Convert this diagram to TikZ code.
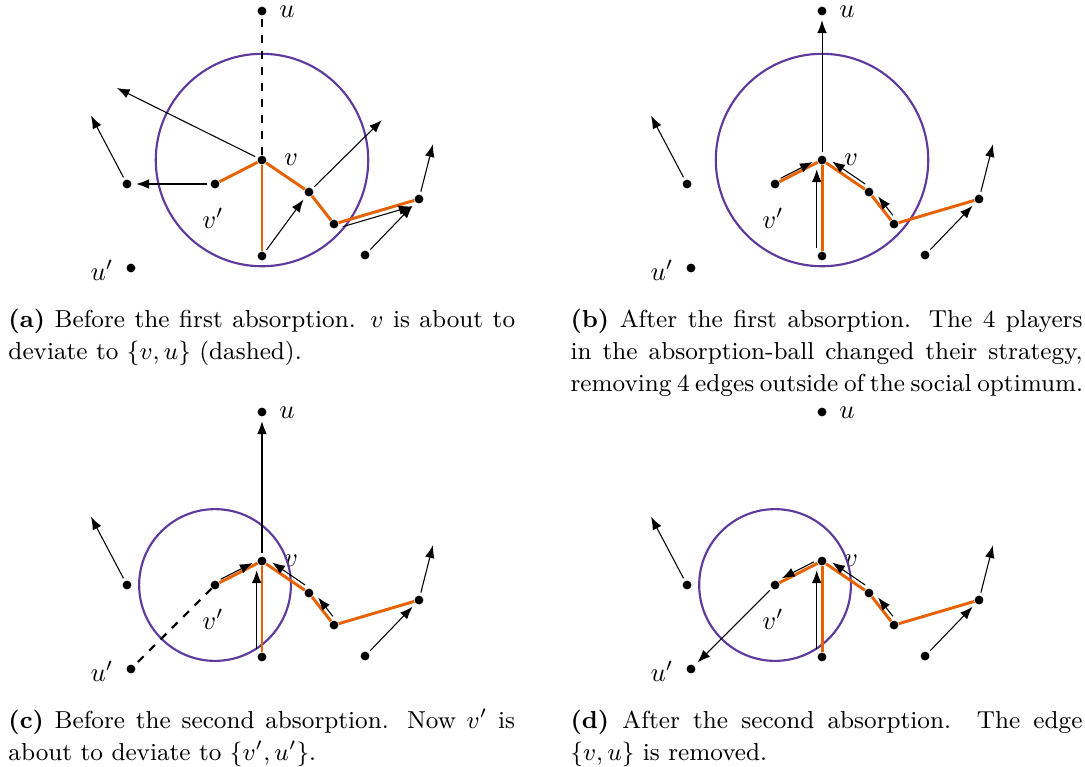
\documentclass[tikz,border=0pt]{standalone}
\usepackage{fix-cm}
\usepackage{amsmath}
\usepackage{tikz}
\usetikzlibrary{arrows.meta,positioning,calc}
\definecolor{ballpurple}{HTML}{5D3A9B}
\definecolor{optorange}{HTML}{E66100}

\begin{document}
\begin{tikzpicture}[
  player/.style={circle, fill=black, inner sep=0pt, minimum size=3.3pt},
  lbl/.style={inner sep=0pt},
  opt/.style={draw=optorange, line width=1.1pt},
  ball/.style={draw=ballpurple, thick},
  buy/.style={-Latex, shorten >=1.6pt, shorten <=1pt},
  along/.style={buy, transform canvas={shift={#1}}},
  deviate/.style={dashed, thick},
  capt/.style={anchor=north west, text width=#1, align=justify, inner sep=0pt,
    font=\fontsize{9.2pt}{12pt}\selectfont}
]
\useasboundingbox (-3.453,2.109) rectangle (10.847,-7.987);
\foreach \p/\sx/\sy/\ctr/\rad in {a/0/0/v/1.4, b/7.381/0/v/1.4, c/0/-5.285/vp/1, d/7.381/-5.285/vp/1} {
  \begin{scope}[shift={(\sx,\sy)}]
  \node[player] (\p-u) at (0,1.964) {};
  \node[player] (\p-v) at (0,0) {};
  \node[player] (\p-vp) at (-0.619,-0.316) {};
  \node[player] (\p-fl) at (-1.779,-0.316) {};
  \node[player] (\p-bt) at (0,-1.265) {};
  \node[player] (\p-A) at (0.619,-0.422) {};
  \node[player] (\p-B) at (0.949,-0.844) {};
  \node[player] (\p-C) at (2.069,-0.514) {};
  \node[player] (\p-D) at (1.358,-1.252) {};
  \node[player] (\p-up) at (-1.727,-1.423) {};
  \coordinate (\p-flend) at (-2.280,0.633);
  \coordinate (\p-cend) at (2.267,0.264);
  \node[lbl] (\p-lu) at (0.33,1.95) {$u$};
  \node[lbl] (\p-lv) at (0.382,0) {$v$};
  \node[lbl] (\p-lvp) at (-0.646,-0.771) {$v'$};
  \node[lbl] (\p-lup) at (-2.109,-1.450) {$u'$};
  \draw[ball] (\p-\ctr) circle[radius=\rad];
  \draw[opt] (\p-v) -- (\p-vp);
  \draw[opt] (\p-v) -- (\p-bt);
  \draw[opt] (\p-v) -- (\p-A);
  \draw[opt] (\p-A) -- (\p-B);
  \draw[opt] (\p-B) -- (\p-C);
  \draw[buy] (\p-fl) -- (\p-flend);
  \draw[buy] (\p-C) -- (\p-cend);
  \draw[buy] (\p-D) -- (\p-C);
  \end{scope}
}
\coordinate (a-vend) at (-1.964,0.975);
\coordinate (a-aend) at (1.621,0.567);
\draw[deviate] (a-v) -- (a-u);
\draw[buy] (a-v) -- (a-vend);
\draw[buy] (a-vp) -- (a-fl);
\draw[buy] (a-bt) -- (a-A);
\draw[buy] (a-A) -- (a-aend);
\draw[along={(0.019,-0.063)}] (a-B) -- (a-C);
\draw[buy] (b-v) -- (b-u);
\draw[along={(-0.015,0.03)}] (b-vp) -- (b-v);
\draw[along={(-0.07,0)}] (b-bt) -- (b-v);
\draw[along={(0.033,0.049)}] (b-A) -- (b-v);
\draw[along={(0.046,0.037)}] (b-B) -- (b-A);
\draw[buy] (c-v) -- (c-u);
\draw[deviate] (c-vp) -- (c-up);
\draw[along={(-0.015,0.03)}] (c-vp) -- (c-v);
\draw[along={(-0.07,0)}] (c-bt) -- (c-v);
\draw[along={(0.033,0.049)}] (c-A) -- (c-v);
\draw[along={(0.046,0.037)}] (c-B) -- (c-A);
\draw[buy] (d-vp) -- (d-up);
\draw[along={(-0.019,0.034)}] (d-v) -- (d-vp);
\draw[along={(-0.07,0)}] (d-bt) -- (d-v);
\draw[along={(0.033,0.049)}] (d-A) -- (d-v);
\draw[along={(0.046,0.037)}] (d-B) -- (d-A);
\node[capt=190pt] (capa) at (-3.348,-1.906) {\strut\textbf{(a)} Before the first absorption. $v$ is about to deviate to $\{v,u\}$ (dashed).};
\node[capt=192pt] (capb) at (4.059,-1.906) {\strut\textbf{(b)} After the first absorption. The 4 players\linebreak in the absorption-ball changed their strategy, removing 4 edges outside of the social optimum.};
\node[capt=190pt] (capc) at (-3.348,-7.191) {\strut\textbf{(c)} Before the second absorption. Now $v'$ is about to deviate to $\{v',u'\}$.};
\node[capt=192pt] (capd) at (4.059,-7.191) {\strut\textbf{(d)} After the second absorption. The edge $\{v,u\}$ is removed.};
\end{tikzpicture}
\end{document}
